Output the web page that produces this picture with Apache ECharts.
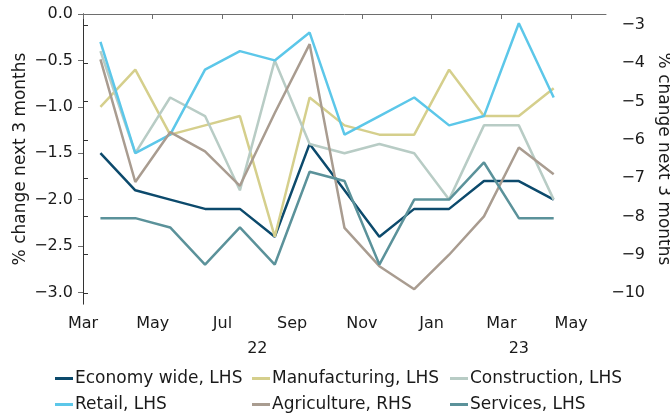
<!DOCTYPE html>
<html>
<head>
<meta charset="utf-8">
<script src="https://cdn.jsdelivr.net/npm/echarts@6/dist/echarts.min.js"></script>
<style>html,body{margin:0;padding:0;background:#fff;}#c{width:670px;height:417px;}</style>
</head>
<body>
<div id="c"></div>
<script>
// Months of the data (mid-month observations), Mar 2022 - Apr 2023
const months = ['2022-03','2022-04','2022-05','2022-06','2022-07','2022-08','2022-09','2022-10','2022-11','2022-12','2023-01','2023-02','2023-03','2023-04'];
const xTickLabels = ['Mar','May','Jul','Sep','Nov','Jan','Mar','May'];
const yearLabels = ['22','23'];
const leftTicks = [0, -0.5, -1.0, -1.5, -2.0, -2.5, -3.0];
const rightTicks = [-3, -4, -5, -6, -7, -8, -9, -10];
const axisTitle = '% change next 3 months';

const economy       = [-1.5,-1.9,-2.0,-2.1,-2.1,-2.4,-1.4,-1.9,-2.4,-2.1,-2.1,-1.8,-1.8,-2.0];
const manufacturing = [-1.0,-0.6,-1.3,-1.2,-1.1,-2.4,-0.9,-1.2,-1.3,-1.3,-0.6,-1.1,-1.1,-0.8];
const construction  = [-0.4,-1.5,-0.9,-1.1,-1.9,-0.5,-1.4,-1.5,-1.4,-1.5,-2.0,-1.2,-1.2,-2.0];
const retail        = [-0.3,-1.5,-1.3,-0.6,-0.4,-0.5,-0.2,-1.3,-1.1,-0.9,-1.2,-1.1,-0.1,-0.9];
const agriculture   = [-3.9,-7.1,-5.8,-6.3,-7.2,-5.3,-3.5,-8.3,-9.3,-9.9,-9.0,-8.0,-6.2,-6.9];
const services      = [-2.2,-2.2,-2.3,-2.7,-2.3,-2.7,-1.7,-1.8,-2.7,-2.0,-2.0,-1.6,-2.2,-2.2];

const FONT = 'DejaVu Sans';
const TXT = '#1a1a1a';
const AX = '#6e6e6e';
const TICK_FS = 16, NAME_FS = 17, LEG_FS = 17;
const xMax = 15; // axis spans Mar 2022 .. end of May 2023 in months
const MINUS = '\u2212';

function pts(arr){ return arr.map((v,i)=>[i+0.5, v]); }
function fmtNum(v, dec){ const t = Math.abs(v).toFixed(dec); return (v < -1e-9 ? MINUS : '') + t; }

const xTickVals = xTickLabels.map((_,k)=>2*k);
const firstNext = months.findIndex(m=>m.startsWith('2023'));
const yearCentres = [firstNext/2, (firstNext + xMax)/2];

const chart = echarts.init(document.getElementById('c'), null, {renderer:'canvas'});
function s(name, data, color, yIdx){
  return {name, type:'line', data:pts(data), yAxisIndex:yIdx||0, xAxisIndex:0,
    showSymbol:false, symbol:'none', lineStyle:{width:2.5, color}, itemStyle:{color}, animation:false};
}
const legendItems = [
  ['Economy wide, LHS', 55, 0], ['Manufacturing, LHS', 252, 0], ['Construction, LHS', 450, 0],
  ['Retail, LHS', 55, 1], ['Agriculture, RHS', 252, 1], ['Services, LHS', 450, 1]
];
const legends = legendItems.map(([name, left, row]) => ({
  data:[name], left:left, top: row ? 396 : 370, itemWidth:18, itemHeight:3, icon:'rect',
  selectedMode:false, padding:0,
  textStyle:{fontFamily:FONT, fontSize:LEG_FS, color:TXT, padding:[0,0,0,-3]}
}));

chart.setOption({
  animation:false,
  textStyle:{fontFamily:FONT},
  grid:{left:83, right:64, top:14, bottom:113, outerBoundsMode:'none', containLabel:false},
  xAxis:[{
    type:'value', min:0, max:xMax,
    axisLine:{lineStyle:{color:AX}},
    axisTick:{show:true, length:5, lineStyle:{color:AX}, customValues:xTickVals},
    splitLine:{show:false},
    axisLabel:{fontFamily:FONT, fontSize:TICK_FS, color:TXT, margin:12, customValues:xTickVals,
      formatter:v=> { const k = xTickVals.indexOf(v); return k>=0 ? xTickLabels[k] : ''; }}
  },{
    type:'value', min:0, max:xMax, position:'bottom', offset:25,
    axisLine:{show:false}, axisTick:{show:false}, splitLine:{show:false},
    axisLabel:{fontFamily:FONT, fontSize:TICK_FS, color:TXT, margin:12, customValues:yearCentres,
      formatter:v=>{ const k = yearCentres.findIndex(c=>Math.abs(c-v)<1e-6); return k>=0 ? yearLabels[k] : ''; }}
  }],
  yAxis:[{
    type:'value', min:-3.125, max:0,
    axisLine:{show:true, lineStyle:{color:AX}},
    axisTick:{show:true, length:5, lineStyle:{color:AX}, customValues:leftTicks},
    splitLine:{show:false},
    axisLabel:{fontFamily:FONT, fontSize:TICK_FS, color:TXT, margin:10, customValues:leftTicks,
      formatter:v=> fmtNum(v,1)}
  },{
    type:'value', min:-10.287, max:-2.713, position:'right',
    axisLine:{show:true, lineStyle:{color:'#333'}},
    axisTick:{show:true, length:5, lineStyle:{color:'#333'}, customValues:rightTicks},
    splitLine:{show:false},
    axisLabel:{fontFamily:FONT, fontSize:TICK_FS, color:TXT, margin:39, align:'right', customValues:rightTicks,
      formatter:v=> fmtNum(v,0)}
  }],
  graphic:[
    {type:'text', x:21, y:159, rotation:Math.PI/2, silent:true,
      style:{text:axisTitle, fontFamily:FONT, fontSize:NAME_FS, fill:TXT, align:'center', verticalAlign:'middle'}},
    {type:'text', x:663, y:159, rotation:-Math.PI/2, silent:true,
      style:{text:axisTitle, fontFamily:FONT, fontSize:NAME_FS, fill:TXT, align:'center', verticalAlign:'middle'}}
  ],
  legend:legends,
  series:[
    s('Economy wide, LHS', economy, '#0c4a6c'),
    s('Manufacturing, LHS', manufacturing, '#d5cf8c'),
    s('Construction, LHS', construction, '#b8ccc5'),
    s('Retail, LHS', retail, '#5cc7e9'),
    s('Agriculture, RHS', agriculture, '#a99c90', 1),
    s('Services, LHS', services, '#5b929a')
  ]
});
</script>
</body>
</html>
